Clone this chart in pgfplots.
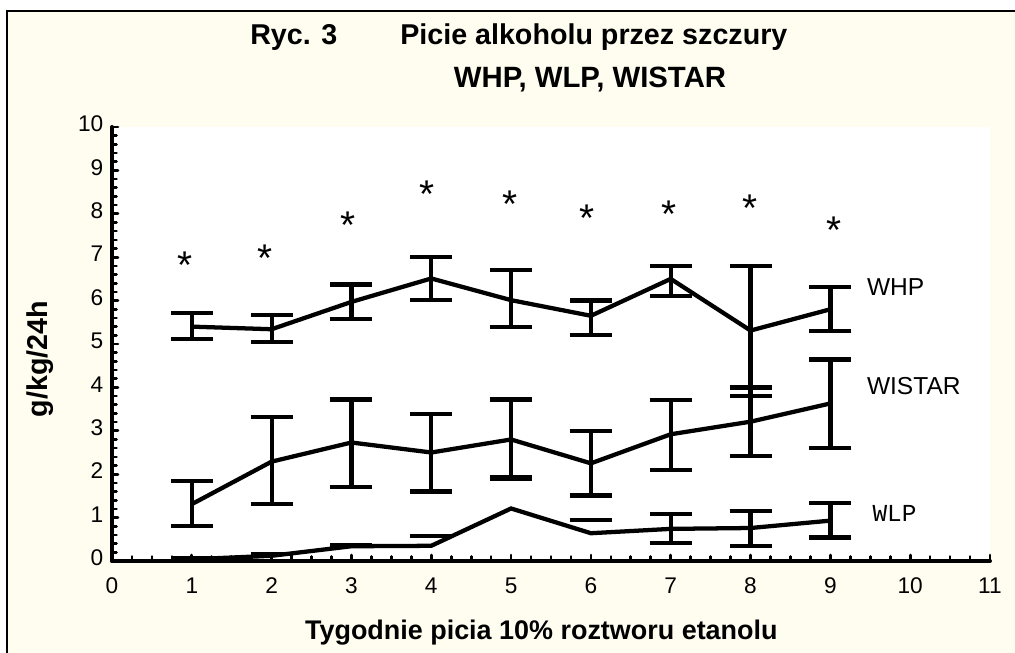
\documentclass[border=0pt]{standalone}
\usepackage{pgfplots}
\usepackage{pgfplotstable}
\pgfplotsset{compat=1.18}
\usepackage{fontspec}
\setmainfont{Liberation Sans}
\newfontfamily\monofont{Liberation Mono}
\definecolor{cream}{RGB}{255,253,240}

\pgfplotstableread{
x y ep em
1 5.40 0.32 0.29
2 5.34 0.32 0.29
3 5.97 0.40 0.40
4 6.51 0.50 0.50
5 6.01 0.70 0.61
6 5.65 0.35 0.44
7 6.50 0.30 0.39
8 5.31 1.49 1.51
9 5.80 0.51 0.50
}\whp

\pgfplotstableread{
x y ep em
1 1.31 0.54 0.50
2 2.29 1.02 0.98
3 2.73 0.99 1.03
4 2.50 0.89 0.90
5 2.80 0.92 0.86
6 2.25 0.75 0.74
7 2.92 0.79 0.82
8 3.21 0.79 0.79
9 3.63 1.01 1.02
}\wistar

\pgfplotstableread{
x y
1 0.04
2 0.12
3 0.34
4 0.35
5 1.21
6 0.64
7 0.74
8 0.76
9 0.93
}\wlp

\pgfplotstableread{
x y ep em
7 0.74 0.34 0.33
8 0.76 0.40 0.41
9 0.93 0.41 0.39
}\wlperr

\pgfplotstableread{
x y
1 0.07
2 0.16
3 0.36
4 0.57
5 1.89
6 0.95
}\wlpcaps

\pgfplotstableread{
x y
0.92 7.01
1.92 7.18
2.96 7.93
3.95 8.66
4.99 8.43
5.95 8.09
6.98 8.20
7.99 8.33
9.05 7.82
}\stars

\begin{document}
\begin{tikzpicture}
\useasboundingbox (0,0) rectangle (761.25pt,489.75pt);
\fill[white] (0,0) rectangle (761.25pt,489.75pt);
\fill[cream] (5.25pt,0) rectangle (761.25pt,481.5pt);
\draw[line width=1.5pt] (5.25pt,-2pt) -- (5.25pt,481.5pt) -- (765pt,481.5pt);

\begin{axis}[
  at={(84pt,69pt)}, anchor=south west,
  scale only axis, width=658.5pt, height=325.5pt,
  xmin=0, xmax=11, ymin=0, ymax=10,
  xtick={0,...,11}, ytick={0,...,10},
  minor x tick num=3, minor y tick num=4,
  axis x line*=bottom, axis y line*=left,
  axis line style={line width=3pt, -, line cap=round},
  tick align=inside,
  major tick length=4.5pt, minor tick length=3.4pt,
  tick style={line width=2pt, line cap=round, black},
  axis background/.style={fill=white},
  /pgf/number format/assume math mode=true,
  tick label style={font=\fontsize{17}{17}\selectfont, text height=0.72em, text depth=0pt},
  yticklabel style={xshift=-3pt},
  xticklabel style={yshift=-14pt},
  clip=false,
  error bars/error bar style={line width=3.2pt},
  error bars/error mark options={line width=3.2pt, mark size=15.75pt},
]
\addplot[black, line width=3.2pt, mark=none,
  error bars/.cd, y dir=both, y explicit, error mark=|]
  table[x=x, y=y, y error plus=ep, y error minus=em] {\whp};
\addplot[black, line width=3.2pt, mark=none,
  error bars/.cd, y dir=both, y explicit, error mark=|]
  table[x=x, y=y, y error plus=ep, y error minus=em] {\wistar};
\addplot[black, line width=3.2pt, mark=none] table[x=x, y=y] {\wlp};
\addplot[draw=none, mark=none,
  error bars/.cd, y dir=both, y explicit, error mark=|]
  table[x=x, y=y, y error plus=ep, y error minus=em] {\wlperr};
\addplot[only marks, mark=-, mark size=15.75pt, mark options={line width=3.2pt, black}]
  table[x=x, y=y] {\wlpcaps};
\addplot[draw=none, mark=none,
  nodes near coords={\fontsize{29}{29}\selectfont *},
  every node near coord/.style={anchor=base, yshift=-16.5pt, inner sep=0pt}]
  table[x=x, y=y] {\stars};

\node[anchor=west, font=\fontsize{18.4}{18.4}\selectfont] at (axis cs:9.40,6.32) {WHP};
\node[anchor=west, font=\fontsize{18.4}{18.4}\selectfont] at (axis cs:9.40,4.02) {WISTAR};
\node[anchor=west, font=\monofont\fontsize{18.3}{18.3}\selectfont] at (axis cs:9.47,1.10) {WLP};
\end{axis}

\node[anchor=base west, font=\bfseries\fontsize{21.5}{22}\selectfont, inner sep=0pt] at (187.5pt,456.4pt) {Ryc. 3};
\node[anchor=base west, font=\bfseries\fontsize{21.5}{22}\selectfont, inner sep=0pt] at (300pt,456.4pt) {Picie alkoholu przez szczury};
\node[anchor=base, font=\bfseries\fontsize{22}{22}\selectfont, inner sep=0pt] at (442.5pt,424.1pt) {WHP, WLP, WISTAR};
\node[anchor=base, font=\bfseries\fontsize{20.2}{21}\selectfont, inner sep=0pt] at (406pt,10.1pt) {Tygodnie picia 10\% roztworu etanolu};
\node[rotate=90, font=\bfseries\fontsize{21.5}{22}\selectfont, inner sep=0pt] at (30pt,220.6pt) {g/kg/24h};
\end{tikzpicture}
\end{document}
